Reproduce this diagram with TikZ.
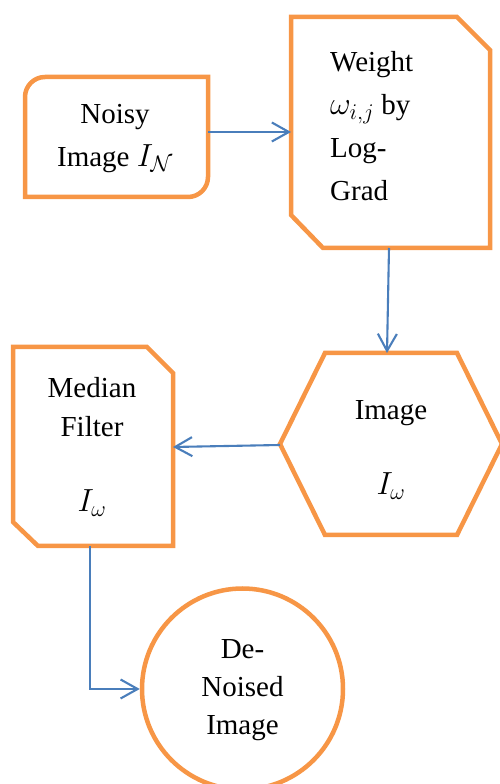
\RequirePackage{fix-cm}
\documentclass[tikz,border=0pt]{standalone}
\usepackage{fontspec}
\setmainfont{Liberation Serif}
\usetikzlibrary{arrows.meta}
\definecolor{boxorange}{HTML}{F79646}
\definecolor{lineblue}{HTML}{4A7EBB}
\tikzset{
  shapeline/.style={draw=boxorange, line width=4.5pt, line join=miter},
  flow/.style={draw=lineblue, line width=2.1pt, -{Straight Barb[length=17pt,width=19pt]}},
  txt/.style={inner sep=0pt, align=center},
  f39/.style={font=\fontsize{29}{39}\selectfont},
  f43/.style={font=\fontsize{29}{43}\selectfont},
  f42/.style={font=\fontsize{29}{42.5}\selectfont},
  f38/.style={font=\fontsize{29}{38}\selectfont},
}
\newcommand{\mybigmath}[1]{{\fontsize{32}{32}\selectfont$#1$}}
\begin{document}
\begin{tikzpicture}[x=1pt,y=1pt]
\useasboundingbox (0,0) rectangle (500,784);
% Noisy image box
\draw[shapeline] (25,587) -- (25,687) arc[start angle=180,end angle=90,radius=20]
  -- (208,707) -- (208,607) arc[start angle=0,end angle=-90,radius=20] -- cycle;
\node[txt,f42] (noisy) at (115,647.25) {\strut Noisy\\\strut Image \mybigmath{I_{\mathcal{N}}}};
\coordinate (noisyE) at (208,652);
% Weight box
\draw[shapeline] (291,767) -- (457,767) -- (490,734) -- (490,536) -- (323,536) -- (291,569) -- cycle;
\node[inner sep=0pt, align=left, anchor=west, f43] (weight) at (330,656.4)
  {\strut Weight\\\strut \mybigmath{\omega_{i,j}} by\\\strut Log-\\\strut Grad};
\coordinate (weightW) at (291,652);
\coordinate (weightS) at (389,536);
% Hexagon
\draw[shapeline] (280,340) -- (325,431) -- (457,431) -- (502,340) -- (457,249) -- (325,249) -- cycle;
\node[txt,f39] (image) at (391,334.3) {\strut Image\\[36pt]\strut \mybigmath{I_{\omega}}};
\coordinate (hexN) at (387,431);
\coordinate (hexW) at (280,339);
% Median filter box
\draw[shapeline] (13,437) -- (147,437) -- (173,411) -- (173,238) -- (38,238) -- (13,262) -- cycle;
\node[txt,f39] (median) at (92,336.8) {\strut Median\\\strut Filter\\[36pt]\strut \mybigmath{I_{\omega}}};
\coordinate (medE) at (173,337);
\coordinate (medS) at (90,238);
% Circle
\node[circle, draw=boxorange, line width=4.5pt, minimum size=201pt, txt, f38] (denoised) at (242.5,95)
  {\strut De-\\\strut Noised\\\strut Image};
% connectors
\draw[flow] (noisyE) -- (weightW);
\draw[flow] (weightS) -- (hexN);
\draw[flow] (hexW) -- (medE);
\draw[flow] (medS) |- (denoised.west);
\end{tikzpicture}
\end{document}
